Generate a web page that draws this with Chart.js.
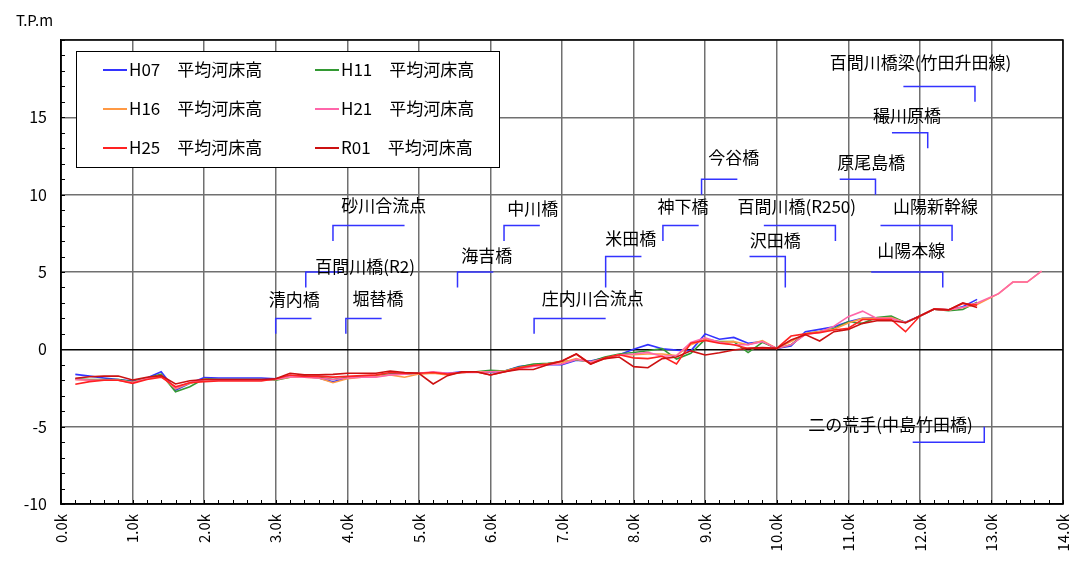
<!DOCTYPE html>
<html>
<head>
<meta charset="utf-8">
<script src="https://cdn.jsdelivr.net/npm/chart.js@4.4.1/dist/chart.umd.min.js"></script>
<style>
  html, body { margin: 0; padding: 0; background: #fff; }
</style>
</head>
<body>
<canvas id="profileChart" width="1078" height="572"></canvas>
<script>
const FONT = '"Noto Sans CJK JP", "Noto Sans", sans-serif';

// distance (km) of each cross section
const km = [0.2, 0.4, 0.6, 0.8, 1.0, 1.2, 1.4, 1.6, 1.8, 2.0,
            2.2, 2.4, 2.6, 2.8, 3.0, 3.2, 3.4, 3.6, 3.8, 4.0,
            4.2, 4.4, 4.6, 4.8, 5.0, 5.2, 5.4, 5.6, 5.8, 6.0,
            6.2, 6.4, 6.6, 6.8, 7.0, 7.2, 7.4, 7.6, 7.8, 8.0,
            8.2, 8.4, 8.6, 8.8, 9.0, 9.2, 9.4, 9.6, 9.8, 10.0,
            10.2, 10.4, 10.6, 10.8, 11.0, 11.2, 11.4, 11.6, 11.8, 12.0,
            12.2, 12.4, 12.6, 12.8];
// upstream sections only surveyed in H16 / H21
const kmUpper = [13.1, 13.3, 13.5, 13.7];

// average river bed height (T.P.m)
const h07 = [-1.62, -1.73, -1.85, -1.95, -2.05, -1.85, -1.45, -2.65, -2.20, -1.83,
             -1.85, -1.85, -1.85, -1.85, -1.90, -1.77, -1.75, -1.85, -2.10, -1.85,
             -1.77, -1.70, -1.60, -1.55, -1.55, -1.50, -1.55, -1.45, -1.45, -1.50,
             -1.40, -1.12, -1.00, -1.00, -1.00, -0.70, -0.75, -0.55, -0.35, 0.00,
             0.30, 0.04, -0.05, -0.10, 1.00, 0.65, 0.77, 0.39, 0.50, 0.06,
             0.22, 1.14, 1.29, 1.46, 1.79, 2.00, 2.04, 2.04, 1.75, 2.15,
             2.60, 2.55, 2.75, 3.23];
const h11 = [-1.90, -1.95, -1.95, -1.95, -2.10, -1.85, -1.60, -2.74, -2.42, -1.90,
             -1.95, -1.95, -1.95, -1.95, -2.00, -1.80, -1.75, -1.80, -1.95, -1.80,
             -1.77, -1.72, -1.60, -1.60, -1.55, -1.50, -1.60, -1.50, -1.45, -1.35,
             -1.40, -1.15, -0.95, -0.90, -0.80, -0.69, -0.80, -0.50, -0.30, -0.20,
             -0.09, 0.05, -0.63, -0.26, 0.64, 0.50, 0.50, -0.21, 0.45, 0.06,
             0.30, 1.00, 1.15, 1.35, 1.78, 1.68, 2.05, 2.15, 1.72, 2.15,
             2.60, 2.50, 2.58, 3.05];
const h16 = [-1.95, -2.00, -2.00, -2.00, -2.15, -1.90, -1.70, -2.55, -2.20, -1.95,
             -2.00, -2.00, -2.00, -1.98, -1.95, -1.80, -1.80, -1.85, -2.16, -1.90,
             -1.80, -1.75, -1.65, -1.80, -1.60, -1.55, -1.65, -1.50, -1.45, -1.45,
             -1.40, -1.20, -1.05, -0.95, -0.85, -0.60, -0.85, -0.60, -0.35, -0.35,
             -0.30, -0.30, -0.40, 0.30, 0.65, 0.45, 0.50, 0.30, 0.56, 0.06,
             0.50, 1.00, 1.15, 1.30, 1.70, 2.00, 2.00, 2.05, 1.72, 2.15,
             2.60, 2.55, 2.70, 2.90];
const h16Upper = [3.60, 4.35, 4.35, 5.05];
const h21 = [-1.94, -2.00, -2.00, -2.00, -2.15, -1.90, -1.70, -2.50, -2.15, -1.95,
             -2.00, -2.00, -2.00, -2.00, -1.95, -1.77, -1.80, -1.85, -1.95, -1.85,
             -1.80, -1.80, -1.65, -1.60, -1.55, -1.45, -1.55, -1.50, -1.50, -1.45,
             -1.45, -1.25, -1.10, -1.00, -0.95, -0.65, -0.80, -0.60, -0.35, -0.30,
             -0.20, -0.45, -0.40, 0.45, 0.75, 0.45, 0.30, 0.30, 0.50, 0.06,
             0.30, 0.95, 1.10, 1.50, 2.11, 2.47, 2.00, 2.00, 1.72, 2.15,
             2.60, 2.55, 2.70, 3.00];
const h21Upper = [3.60, 4.35, 4.35, 5.05];
const h25 = [-2.26, -2.09, -2.00, -2.00, -2.20, -1.95, -1.80, -2.42, -2.16, -2.09,
             -2.05, -2.05, -2.05, -2.05, -1.90, -1.66, -1.75, -1.75, -1.80, -1.75,
             -1.70, -1.65, -1.50, -1.55, -1.55, -1.50, -1.60, -1.50, -1.45, -1.66,
             -1.45, -1.20, -1.05, -0.95, -0.75, -0.30, -0.95, -0.55, -0.35, -0.55,
             -0.60, -0.45, -0.95, 0.40, 0.58, 0.39, 0.30, 0.06, 0.06, 0.06,
             0.86, 1.00, 1.08, 1.25, 1.36, 1.93, 1.93, 1.93, 1.14, 2.15,
             2.60, 2.55, 2.97, 2.86];
const r01 = [-1.87, -1.77, -1.73, -1.73, -1.98, -1.80, -1.70, -2.24, -2.03, -1.95,
             -1.95, -1.95, -1.95, -1.95, -1.90, -1.55, -1.65, -1.65, -1.62, -1.55,
             -1.55, -1.55, -1.40, -1.50, -1.55, -2.24, -1.70, -1.45, -1.45, -1.66,
             -1.45, -1.30, -1.30, -1.00, -0.75, -0.30, -0.95, -0.60, -0.50, -1.12,
             -1.19, -0.60, -0.50, -0.10, -0.37, -0.22, -0.04, 0.06, 0.12, 0.06,
             0.60, 0.95, 0.54, 1.14, 1.29, 1.68, 1.85, 1.85, 1.72, 2.15,
             2.60, 2.55, 3.00, 2.71];

const seriesNames = ['H07\u3000平均河床高', 'H11\u3000平均河床高', 'H16\u3000平均河床高',
                     'H21\u3000平均河床高', 'H25\u3000平均河床高', 'R01\u3000平均河床高'];
const seriesColors = ['#3333ff', '#339933', '#ff9944', '#ff66aa', '#ff2222', '#cc1111'];

// landmarks: [name, km of leader, leader y, leader end y, leader span (km), label km, label y]
const bridges = [
    ['清内橋', 3.0, 2, 1, 0.5, 3.26, 3.2],
    ['堀替橋', 3.98, 2, 1, 0.5, 4.43, 3.3],
    ['百間川橋(R2)', 3.42, 5, 4, 0.5, 4.25, 5.38],
    ['砂川合流点', 3.8, 8, 7, 1.0, 4.51, 9.32],
    ['海吉橋', 5.54, 5, 4, 0.5, 5.95, 6.09],
    ['中川橋', 6.19, 8, 7, 0.5, 6.59, 9.13],
    ['庄内川合流点', 6.61, 2, 1, 1.0, 7.43, 3.31],
    ['米田橋', 7.61, 6, 4, 0.5, 7.96, 7.19],
    ['神下橋', 8.41, 8, 7, 0.5, 8.69, 9.21],
    ['今谷橋', 8.95, 11, 10, 0.5, 9.40, 12.37],
    ['百間川橋(R250)', 10.82, 8, 7, -1.0, 10.28, 9.21],
    ['沢田橋', 10.12, 6, 4, -0.5, 9.98, 7.05],
    ['原尾島橋', 11.38, 11, 10, -0.5, 11.32, 12.05],
    ['穝川原橋', 12.11, 14, 13, -0.5, 11.82, 15.14],
    ['百間川橋梁(竹田升田線)', 12.77, 17, 16, -1.0, 12.01, 18.56],
    ['山陽新幹線', 12.45, 8, 7, -1.0, 12.22, 9.21],
    ['山陽本線', 12.32, 5, 4, -1.0, 11.88, 6.41],
    ['二の荒手(中島竹田橋)', 12.9, -6, -5, -1.0, 11.59, -4.89]
];

function toPoints(xs, ys) {
    return xs.map((x, i) => ({ x: x, y: ys[i] }));
}

const allSeries = [
    toPoints(km, h07),
    toPoints(km, h11),
    toPoints(km, h16).concat(toPoints(kmUpper, h16Upper)),
    toPoints(km, h21).concat(toPoints(kmUpper, h21Upper)),
    toPoints(km, h25),
    toPoints(km, r01)
];

// frame, minor ticks, landmark leaders and the legend box
const overlayPlugin = {
    id: 'overlay',
    afterDatasetsDraw(chart) {
        const ctx = chart.ctx;
        const a = chart.chartArea;
        const xs = chart.scales.x;
        const ys = chart.scales.y;
        ctx.save();

        // minor ticks
        ctx.strokeStyle = '#000';
        ctx.lineWidth = 1;
        ctx.beginPath();
        for (let i = 0; i <= 70; i++) {
            const px = Math.round(xs.getPixelForValue(i / 5)) + 0.5;
            ctx.moveTo(px, a.bottom);
            ctx.lineTo(px, a.bottom - 4);
        }
        for (let v = -10; v <= 20; v++) {
            const py = Math.round(ys.getPixelForValue(v)) + 0.5;
            ctx.moveTo(a.left, py);
            ctx.lineTo(a.left + 4, py);
        }
        ctx.stroke();

        // frame
        ctx.lineWidth = 1.5;
        ctx.strokeRect(a.left, a.top, a.right - a.left, a.bottom - a.top);

        // landmarks
        ctx.font = '17px ' + FONT;
        ctx.textAlign = 'center';
        ctx.textBaseline = 'middle';
        bridges.forEach(b => {
            const [name, bx, lineY, endY, span, tx, ty] = b;
            const x0 = xs.getPixelForValue(bx);
            const x1 = xs.getPixelForValue(bx + span);
            const y0 = ys.getPixelForValue(lineY);
            const y1 = ys.getPixelForValue(endY);
            ctx.strokeStyle = '#3333ff';
            ctx.lineWidth = 1.5;
            ctx.beginPath();
            ctx.moveTo(x0, y1);
            ctx.lineTo(x0, y0);
            ctx.lineTo(x1, y0);
            ctx.stroke();
            ctx.fillStyle = '#000';
            ctx.fillText(name, xs.getPixelForValue(tx), ys.getPixelForValue(ty));
        });

        // legend box (inside plot, 2 columns x 3 rows)
        const lx = a.left + 15, ly = a.top + 11, lw = 423, lh = 116;
        ctx.fillStyle = '#fff';
        ctx.fillRect(lx, ly, lw, lh);
        ctx.strokeStyle = '#000';
        ctx.lineWidth = 1;
        ctx.strokeRect(lx + 0.5, ly + 0.5, lw, lh);
        ctx.textAlign = 'left';
        ctx.font = '17px ' + FONT;
        chart.data.datasets.forEach((ds, i) => {
            const col = i % 2, row = Math.floor(i / 2);
            const cx = lx + 27 + col * 212;
            const cy = ly + 19 + row * 39;
            ctx.strokeStyle = ds.borderColor;
            ctx.lineWidth = 2;
            ctx.beginPath();
            ctx.moveTo(cx, cy);
            ctx.lineTo(cx + 24, cy);
            ctx.stroke();
            ctx.fillStyle = '#000';
            ctx.fillText(ds.label, cx + 26, cy);
        });

        // unit label
        ctx.font = '15px ' + FONT;
        ctx.fillText('T.P.m', 16, 20);
        ctx.restore();
    }
};

new Chart(document.getElementById('profileChart'), {
    type: 'line',
    data: {
        datasets: allSeries.map((pts, i) => ({
            label: seriesNames[i],
            data: pts,
            borderColor: seriesColors[i],
            backgroundColor: seriesColors[i],
            borderWidth: 1.6,
            pointRadius: 0,
            tension: 0,
            fill: false,
            order: 5 - i
        }))
    },
    options: {
        responsive: false,
        animation: false,
        events: [],
        layout: { padding: { top: 40, right: 15, left: 0, bottom: 0 } },
        plugins: {
            legend: { display: false },
            tooltip: { enabled: false },
            title: { display: false }
        },
        scales: {
            x: {
                type: 'linear',
                min: 0,
                max: 14,
                afterFit: s => { s.height = 68; s.paddingLeft = 0; s.paddingRight = 0; },
                grid: { color: '#707070', lineWidth: 1.5, drawTicks: false },
                border: { color: '#000', width: 1.5 },
                ticks: {
                    stepSize: 1,
                    minRotation: 90,
                    maxRotation: 90,
                    padding: 10,
                    color: '#000',
                    font: { family: FONT, size: 15 },
                    callback: v => v.toFixed(1) + 'k'
                }
            },
            y: {
                min: -10,
                max: 20,
                afterFit: s => { s.width = 61; s.paddingTop = 0; s.paddingBottom = 0; },
                grid: {
                    color: c => (c.tick && c.tick.value === 0) ? '#000' : '#707070',
                    lineWidth: 1.5,
                    drawTicks: false
                },
                border: { color: '#000', width: 1.5 },
                ticks: {
                    stepSize: 5,
                    padding: 14,
                    color: '#000',
                    font: { family: FONT, size: 16 },
                    callback: v => (v === 20 ? '' : v)
                }
            }
        }
    },
    plugins: [overlayPlugin]
});
</script>
</body>
</html>
